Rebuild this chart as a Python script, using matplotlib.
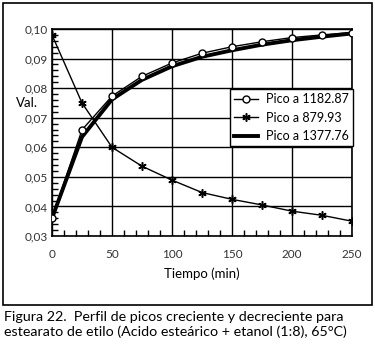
import matplotlib
matplotlib.use("Agg")
import matplotlib.pyplot as plt
from matplotlib.ticker import MultipleLocator, FuncFormatter
from matplotlib.patches import Rectangle

tiempo = [0, 25, 50, 75, 100, 125, 150, 175, 200, 225, 250]
pico_1182 = [0.036, 0.0659, 0.0773, 0.0840, 0.0885, 0.0918, 0.0940, 0.0957, 0.0971, 0.0980, 0.0988]
pico_879 = [0.098, 0.0750, 0.0600, 0.0536, 0.0489, 0.0447, 0.0424, 0.0405, 0.0384, 0.0370, 0.0350]
pico_1377 = [0.036, 0.0635, 0.0762, 0.0828, 0.0874, 0.0906, 0.0928, 0.0947, 0.0962, 0.0974, 0.0985]
labels = ["Pico a 1182.87", "Pico a 879.93", "Pico a 1377.76"]
caption = ["Figura 22.  Perfil de picos creciente y decreciente para",
           "estearato de etilo (Acido esteárico + etanol (1:8), 65°C)"]

plt.rcParams['font.family'] = ['Lato', 'DejaVu Sans']

W, H = 375, 347
fig = plt.figure(figsize=(W / 100, H / 100), dpi=100)
fig.patch.set_facecolor('white')

# outer frame
fig.patches.append(Rectangle((3 / W, 1 - 305 / H), 369 / W, 302 / H,
                             transform=fig.transFigure, fill=False,
                             edgecolor='black', linewidth=1.2))

ax = fig.add_axes([52 / W, 1 - 236 / H, 300 / W, 207 / H])
ax.plot(tiempo, pico_1182, color='black', lw=1.0, marker='o', ms=5,
        mfc='white', mec='black', mew=1.0, label=labels[0], zorder=4)
ax.plot(tiempo, pico_879, color='black', lw=1.0, marker=(6, 2, 0), ms=6,
        mew=1.1, label=labels[1], zorder=4)
ax.plot(tiempo, pico_1377, color='black', lw=2.8, label=labels[2], zorder=3)

ax.set_xlim(0, 250)
ax.set_ylim(0.03, 0.10)
ax.xaxis.set_major_locator(MultipleLocator(50))
ax.xaxis.set_minor_locator(MultipleLocator(10))
ax.yaxis.set_major_locator(MultipleLocator(0.01))
ax.yaxis.set_minor_locator(MultipleLocator(0.002))
ax.yaxis.set_major_formatter(FuncFormatter(lambda v, p: f"{v:.2f}".replace('.', ',')))
ax.tick_params(which='both', direction='in', top=False, right=False,
               labelsize=8.5, colors='black', labelcolor='#333333')
ax.tick_params(which='major', length=0, pad=3)
ax.tick_params(axis='x', which='major', pad=9)
ax.tick_params(which='minor', length=4, width=1)
ax.grid(True, which='major', color='black', lw=1.0)
for s in ax.spines.values():
    s.set_linewidth(1.2)
    s.set_color('black')

ax.set_xlabel("Tiempo (min)", fontsize=9.5, labelpad=6)
fig.text(16 / W, 1 - 103 / H, "Val.", fontsize=9.5, ha='left', va='center')

leg = ax.legend(loc='upper left', bbox_to_anchor=((230 - 52) / 300, 1 - (89 - 29) / 207),
                frameon=True, fancybox=False, fontsize=9, handlelength=1.9,
                handletextpad=0.6, borderpad=0.35, labelspacing=0.5, borderaxespad=0)
leg.get_frame().set_edgecolor('black')
leg.get_frame().set_linewidth(1.0)
leg.get_frame().set_alpha(1)

fig.text(4 / W, 1 - 317 / H, caption[0], fontsize=10.3, ha='left', va='center')
fig.text(4 / W, 1 - 332 / H, caption[1], fontsize=10.3, ha='left', va='center')

fig.savefig("out.png", dpi=100)
